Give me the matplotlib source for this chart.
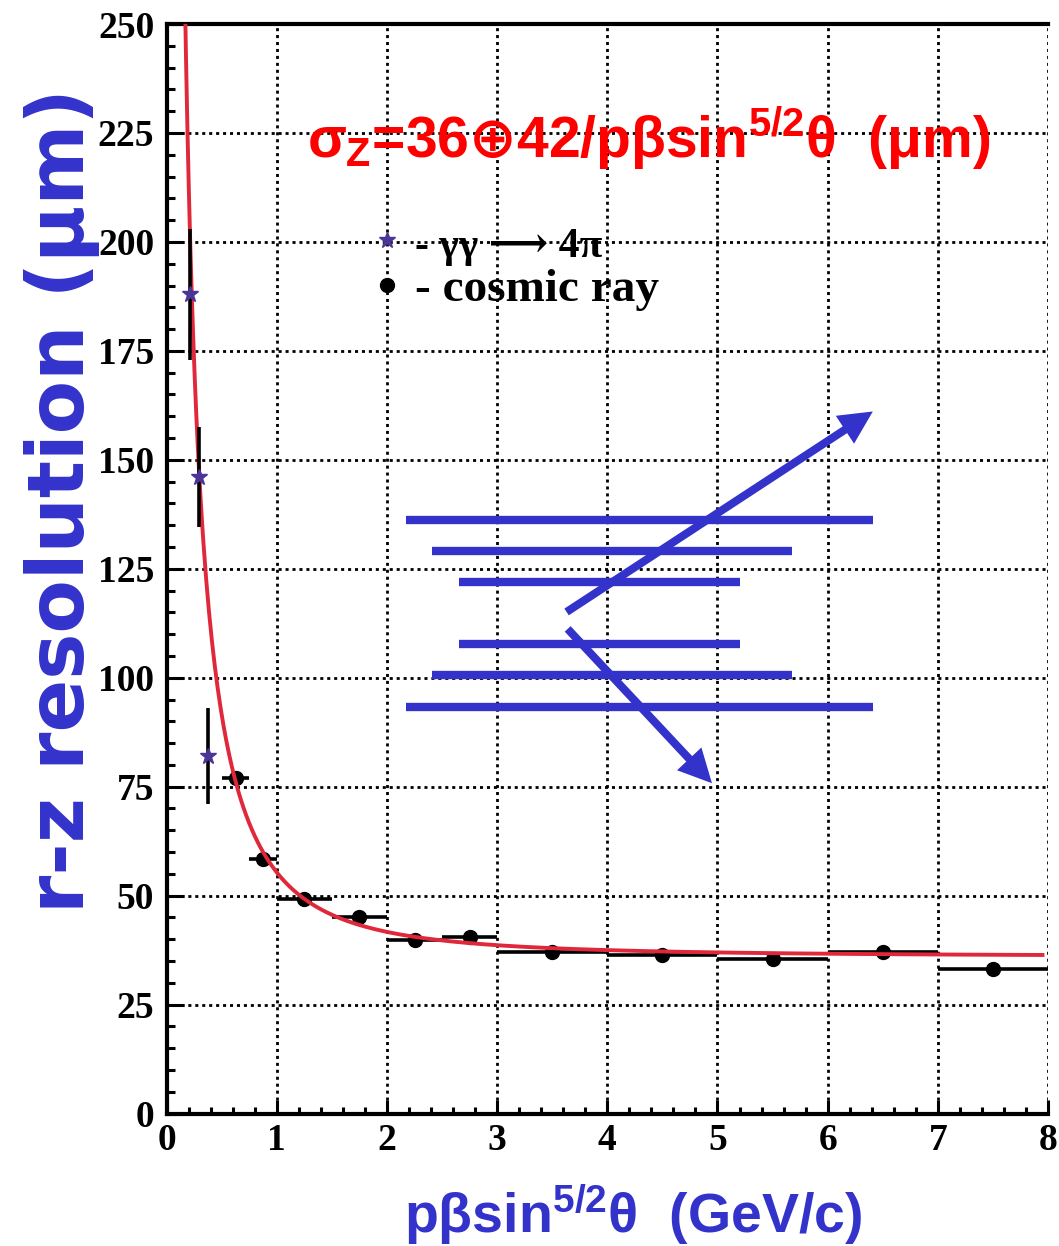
import numpy as np
import matplotlib.pyplot as plt
from matplotlib.lines import Line2D
from matplotlib.ticker import MultipleLocator
from matplotlib.font_manager import FontProperties

plt.rcParams['mathtext.fontset'] = 'custom'
plt.rcParams['mathtext.rm'] = 'Liberation Sans:bold'
plt.rcParams['mathtext.it'] = 'Liberation Sans:bold'
plt.rcParams['mathtext.bf'] = 'Liberation Sans:bold'
plt.rcParams['mathtext.sf'] = 'DejaVu Sans:bold'

BLUE = '#3333cc'
FIT_RED = '#e0283a'
STAR_COL = '#4b3596'
SANS = ['Liberation Sans', 'DejaVu Sans']
SERIF = ['Liberation Serif', 'DejaVu Serif']

# cosmic ray points: bin centre, half bin width, resolution (um)
cosmic_x = [0.625, 0.875, 1.25, 1.75, 2.25, 2.75, 3.5, 4.5, 5.5, 6.5, 7.5]
cosmic_xerr = [0.125, 0.125, 0.25, 0.25, 0.25, 0.25, 0.5, 0.5, 0.5, 0.5, 0.5]
cosmic_y = [77.0, 58.5, 49.3, 45.2, 39.8, 40.4, 37.0, 36.3, 35.4, 37.1, 33.2]

# gamma gamma -> 4 pi points
gg_x = [0.21, 0.29, 0.375]
gg_y = [188.0, 146.0, 82.0]
gg_yerr = [15.0, 11.5, 11.0]

# fit: sigma = A (+) B/p
FIT_A = 36
FIT_B = 42
FIT_XMIN = 0.15
FIT_XMAX = 7.95

# little detector sketch (layers and two tracks)
layer_y = [136.2, 129.1, 122.0, 107.7, 100.6, 93.4]
layer_x0 = [2.17, 2.41, 2.65, 2.65, 2.41, 2.17]
layer_x1 = [6.41, 5.68, 5.20, 5.20, 5.68, 6.41]
track_start = [(3.63, 115.1), (3.64, 111.2)]
track_end = [(6.41, 161.1), (4.95, 75.8)]

xticks = list(range(0, 9))
yticks = list(range(0, 251, 25))

fig = plt.figure(figsize=(10.59, 12.46), dpi=100)
ax = fig.add_axes([0.1574, 0.1063, 0.8322, 0.8744])

ax.set_xlim(0, 8)
ax.set_ylim(0, 250)
ax.set_xticks(xticks)
ax.set_yticks(yticks)
ax.xaxis.set_minor_locator(MultipleLocator(0.2))
ax.yaxis.set_minor_locator(MultipleLocator(5))
ax.tick_params(which='both', direction='in', top=False, right=False, width=2.2)
ax.tick_params(axis='y', which='major', length=12, pad=9)
ax.tick_params(axis='y', which='minor', length=6)
ax.tick_params(axis='x', which='major', length=10, pad=7)
ax.tick_params(axis='x', which='minor', length=5)
for lab in ax.get_xticklabels() + ax.get_yticklabels():
    lab.set_fontfamily(SERIF)
    lab.set_fontweight('bold')
    lab.set_fontsize(27)

ax.spines['right'].set_visible(False)
for s in ['left', 'bottom', 'top']:
    ax.spines[s].set_linewidth(3)

ax.set_axisbelow(True)
ax.grid(True, which='major', color='black', linestyle=(0, (1.1, 1.4)), linewidth=2.0)

# detector layers and tracks
ax.hlines(layer_y, layer_x0, layer_x1, colors=BLUE, linewidth=6)
for s, e in zip(track_start, track_end):
    ax.annotate('', xy=e, xytext=s,
                arrowprops=dict(arrowstyle='simple,head_length=1.2,head_width=1.2,tail_width=0.29',
                                fc=BLUE, ec='none', lw=0, shrinkA=0, shrinkB=0,
                                mutation_scale=20))

ax.errorbar(cosmic_x, cosmic_y, xerr=cosmic_xerr, fmt='o', color='black', ms=10,
            elinewidth=2.6, capsize=0, zorder=3)

p = np.linspace(FIT_XMIN, FIT_XMAX, 600)
ax.plot(p, np.hypot(FIT_A, FIT_B / p), color=FIT_RED, lw=2.8, zorder=4)

ax.errorbar(gg_x, gg_y, yerr=gg_yerr, fmt='*', color=STAR_COL, ecolor='black', ms=12,
            elinewidth=2.6, capsize=0, zorder=5)

handles = [Line2D([], [], marker='*', ls='none', color=STAR_COL, ms=12),
           Line2D([], [], marker='o', ls='none', color='black', ms=10)]
leg = ax.legend(handles, ['- γγ ⟶ 4π', '- cosmic ray'], loc='upper left',
                bbox_to_anchor=(0.234, 0.8165), frameon=False, handlelength=0.6,
                handletextpad=0.3, borderpad=0, borderaxespad=0, labelspacing=0.05,
                prop=FontProperties(family=SERIF, weight='bold', size=34))
leg.get_texts()[0].set_fontsize(30)

ax.text(0.159, 0.878, r'$\sigma_{Z}$=36$\mathsf{⊕}$42/p$\beta$sin$^{5/2}\theta$  ($\mu$m)',
        transform=ax.transAxes, color='#ff0000', fontsize=41, fontweight='bold',
        family=SANS, ha='left', va='baseline', zorder=6)

ax.set_ylabel('r-z resolution (μm)', color=BLUE, fontsize=56, fontweight='bold',
              family=['DejaVu Sans'], va='center', ha='center')
ax.yaxis.set_label_coords(-0.119, 0.563)
ax.set_xlabel(r'p$\beta$sin$^{5/2}\theta$  (GeV/c)', color=BLUE, fontsize=40,
              fontweight='bold', family=SANS, va='center', ha='center')
ax.xaxis.set_label_coords(0.529, -0.093)

fig.savefig('out.png', dpi=100)
